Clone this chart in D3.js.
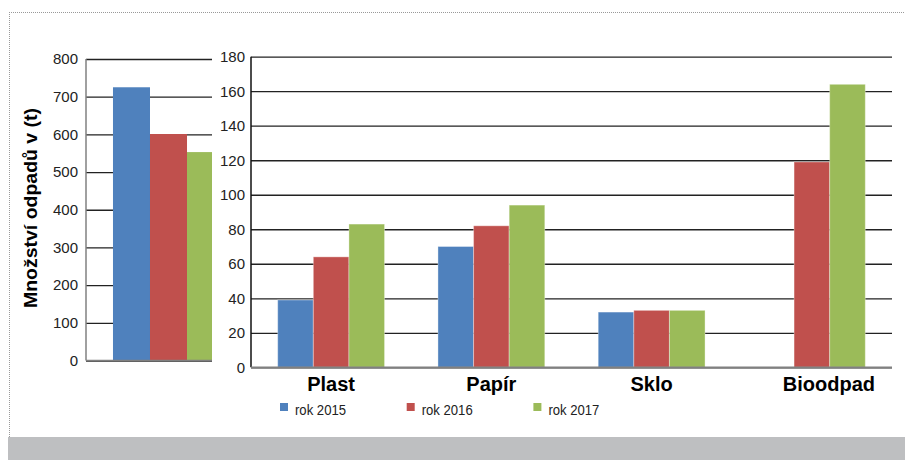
<!DOCTYPE html>
<html>
<head>
<meta charset="utf-8">
<script src="https://cdn.jsdelivr.net/npm/d3@7"></script>
<style>
  body { margin: 0; background: #fff; }
  svg { display: block; font-family: "Liberation Sans", Arial, sans-serif; }
</style>
</head>
<body>
<div id="chart"></div>
<script>
// data
const years = ['rok 2015', 'rok 2016', 'rok 2017'];
const colors = ['#4f81bd', '#c0504d', '#9bbb59'];

const totalValues = [725, 601, 553];
const totalTicks = [0, 100, 200, 300, 400, 500, 600, 700, 800];

const categories = ['Plast', 'Papír', 'Sklo', 'Bioodpad'];
const val2015 = [39, 70, 32, null];
const val2016 = [64, 82, 33, 119];
const val2017 = [83, 94, 33, 164];
const detailTicks = [0, 20, 40, 60, 80, 100, 120, 140, 160, 180];

const width = 905, height = 460;
const svg = d3.select('#chart').append('svg')
  .attr('width', width)
  .attr('height', height);

// frame: dotted border + grey strip at the bottom
svg.append('line')
  .attr('x1', 9).attr('x2', width).attr('y1', 12.5).attr('y2', 12.5)
  .attr('stroke', '#999').attr('stroke-dasharray', '1,1');
svg.append('line')
  .attr('x1', 9.5).attr('x2', 9.5).attr('y1', 12).attr('y2', 437)
  .attr('stroke', '#999').attr('stroke-dasharray', '1,1');
svg.append('rect')
  .attr('x', 8).attr('y', 437).attr('width', width - 8).attr('height', height - 437)
  .attr('fill', '#bebfc1');

// y title
svg.append('text')
  .attr('transform', 'translate(37,208) rotate(-90)')
  .attr('text-anchor', 'middle')
  .attr('font-size', 19).attr('font-weight', 'bold')
  .attr('textLength', 200).attr('lengthAdjust', 'spacingAndGlyphs')
  .text('Množství odpadů v (t)');

const tickFont = g => g.selectAll('.tick text')
  .attr('font-size', 15).attr('fill', '#222')
  .attr('font-family', '"Liberation Sans", Arial, sans-serif');

// ---- left panel (total, clipped) ----
const left = {x0: 86, x1: 212, top: 59, bottom: 360.5};
const yL = d3.scaleLinear().domain([0, 800]).range([left.bottom, left.top]);
const xL = d3.scaleBand().domain(['total']).range([86, 251])
  .paddingInner(0).paddingOuter(0.243);
const xLs = d3.scaleBand().domain(years).range([0, xL.bandwidth()]);

svg.append('clipPath').attr('id', 'clipL')
  .append('rect').attr('x', left.x0).attr('y', 0)
  .attr('width', left.x1 - left.x0).attr('height', height);

const gL = svg.append('g');
gL.append('g')
  .attr('transform', `translate(${left.x0},0)`)
  .call(d3.axisLeft(yL).tickValues(totalTicks).tickSize(-(left.x1 - left.x0)).tickPadding(8))
  .call(g => g.select('.domain').remove())
  .call(g => g.selectAll('.tick line').attr('stroke', '#222').attr('stroke-width', 1.3))
  .call(tickFont);

gL.append('g').attr('clip-path', 'url(#clipL)')
  .selectAll('rect')
  .data(totalValues)
  .enter().append('rect')
    .attr('x', (d, i) => xL('total') + xLs(years[i]))
    .attr('y', d => yL(d))
    .attr('width', xLs.bandwidth())
    .attr('height', d => yL(0) - yL(d))
    .attr('fill', (d, i) => colors[i]);

gL.append('line')
  .attr('x1', left.x0).attr('x2', left.x0).attr('y1', left.top).attr('y2', left.bottom)
  .attr('stroke', '#808080').attr('stroke-width', 1.5);
gL.append('line')
  .attr('x1', left.x0).attr('x2', left.x1).attr('y1', left.bottom).attr('y2', left.bottom)
  .attr('stroke', '#808080').attr('stroke-width', 1.5);

// ---- right panel (by category) ----
const right = {x0: 251, x1: 892, top: 56.7, bottom: 367.3};
const yR = d3.scaleLinear().domain([0, 180]).range([right.bottom, right.top]);
const xR = d3.scaleBand().domain(categories).range([right.x0, right.x1])
  .paddingInner(1 / 3).paddingOuter(1 / 6);
const xRs = d3.scaleBand().domain(years).range([0, xR.bandwidth()]);

const gR = svg.append('g');
gR.append('g')
  .attr('transform', `translate(${right.x0},0)`)
  .call(d3.axisLeft(yR).tickValues(detailTicks).tickSize(-(right.x1 - right.x0)).tickPadding(6))
  .call(g => g.select('.domain').remove())
  .call(g => g.selectAll('.tick line').attr('stroke', '#222').attr('stroke-width', 1.3))
  .call(tickFont);

const series = [val2015, val2016, val2017];
const barData = [];
categories.forEach((c, ci) => {
  series.forEach((s, si) => {
    if (s[ci] != null) barData.push({cat: c, year: years[si], color: colors[si], value: s[ci]});
  });
});

gR.selectAll('.bar')
  .data(barData)
  .enter().append('rect')
    .attr('class', 'bar')
    .attr('x', d => xR(d.cat) + xRs(d.year))
    .attr('y', d => yR(d.value))
    .attr('width', xRs.bandwidth())
    .attr('height', d => yR(0) - yR(d.value))
    .attr('fill', d => d.color)
    .attr('stroke', 'rgba(255,255,255,0.35)')
    .attr('stroke-width', 1);

gR.append('line')
  .attr('x1', right.x0).attr('x2', right.x0).attr('y1', right.top).attr('y2', right.bottom)
  .attr('stroke', '#111').attr('stroke-width', 1.5);
gR.append('line')
  .attr('x1', right.x0).attr('x2', right.x1).attr('y1', right.bottom).attr('y2', right.bottom)
  .attr('stroke', '#808080').attr('stroke-width', 1.5);

// category labels
gR.selectAll('.cat')
  .data(categories)
  .enter().append('text')
    .attr('class', 'cat')
    .attr('x', (d, i) => xR(d) + xR.bandwidth() / 2 + (i === categories.length - 1 ? 17 : 0))
    .attr('y', 391)
    .attr('text-anchor', 'middle')
    .attr('font-size', 20).attr('font-weight', 'bold')
    .text(d => d);

// legend
const legend = svg.append('g').attr('transform', 'translate(280,403)');
const item = legend.selectAll('g')
  .data(years)
  .enter().append('g')
    .attr('transform', (d, i) => `translate(${i * 126.7},0)`);
item.append('rect')
  .attr('width', 8).attr('height', 8)
  .attr('fill', (d, i) => colors[i]);
item.append('text')
  .attr('x', 15).attr('y', 12)
  .attr('font-size', 14).attr('fill', '#222')
  .attr('textLength', 51).attr('lengthAdjust', 'spacingAndGlyphs')
  .text(d => d);
</script>
</body>
</html>
